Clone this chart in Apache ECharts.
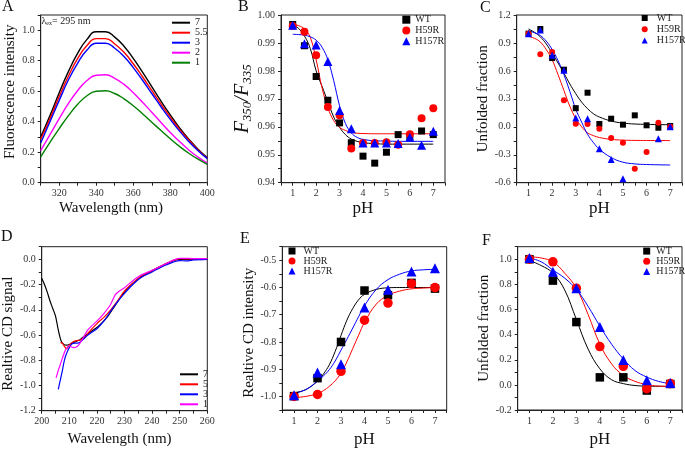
<!DOCTYPE html>
<html><head><meta charset="utf-8">
<script src="https://cdn.jsdelivr.net/npm/echarts@6/dist/echarts.min.js"></script>
<style>html,body{margin:0;padding:0;background:#fff}#c{width:685px;height:449px}</style>
</head><body><div id="c"></div>
<script>
// ---------- Panel A: fluorescence spectra ----------
const wlA = [310,315,320,325,330,335,340,345,350,355,360,365,370,375,380,385,390,395,400];
const fluo7  = [0.30,0.44,0.59,0.73,0.85,0.94,0.99,0.99,0.955,0.895,0.815,0.725,0.63,0.535,0.445,0.36,0.285,0.22,0.165];
const fluo55 = [0.285,0.42,0.565,0.70,0.815,0.90,0.945,0.945,0.91,0.855,0.78,0.695,0.605,0.515,0.43,0.35,0.28,0.215,0.16];
const fluo3  = [0.26,0.40,0.54,0.675,0.785,0.87,0.915,0.915,0.882,0.828,0.755,0.672,0.585,0.498,0.415,0.338,0.27,0.21,0.158];
const fluo2  = [0.21,0.315,0.42,0.52,0.605,0.67,0.705,0.708,0.685,0.645,0.59,0.528,0.462,0.395,0.33,0.27,0.215,0.168,0.128];
const fluo1  = [0.17,0.265,0.355,0.44,0.515,0.57,0.60,0.603,0.585,0.55,0.505,0.452,0.397,0.342,0.288,0.238,0.193,0.154,0.12];

// ---------- Panels B, C: pH scans ----------
const phBC = [1,1.5,2,2.5,3,3.5,4,4.5,5,5.5,6,6.5,7];
const bWT    = [0.9966,0.989,0.978,0.9695,0.9614,0.9543,0.9495,0.947,0.9509,0.9572,0.9565,0.9585,0.9572];
const bH59R  = [0.9961,0.994,0.9856,0.9671,0.9641,0.9522,0.9542,0.9542,0.9545,0.9536,0.9573,0.9631,0.9666];
const bH157R = [0.9963,0.9897,0.9893,0.9834,0.9658,0.9593,0.9542,0.9542,0.9542,0.954,0.9563,0.9534,0.9584];
const fitPhBC = [1,1.25,1.5,1.75,2,2.25,2.5,2.75,3,3.25,3.5,3.75,4,4.5,5,5.5,6,7];
const bFitWT    = [0.9965,0.9952,0.9925,0.988,0.980,0.9745,0.969,0.9635,0.9598,0.9572,0.9556,0.9548,0.9543,0.954,0.9538,0.9538,0.9538,0.9538];
const bFitH59R  = [0.9966,0.9962,0.995,0.992,0.984,0.974,0.9668,0.9622,0.9598,0.9587,0.958,0.9577,0.9576,0.9575,0.9575,0.9575,0.9575,0.9575];
const bFitH157R = [0.9931,0.993,0.9928,0.9922,0.991,0.9885,0.984,0.9765,0.9675,0.9612,0.9578,0.9562,0.9555,0.955,0.9549,0.9548,0.9548,0.9548];

const cWT    = [1.0,1.05,0.738,0.613,0.2,0.366,0.03,0.087,0.023,0.123,0.016,-0.01,0.009];
const cH59R  = [1.0,0.778,0.803,0.284,0.034,0.03,-0.02,-0.12,-0.17,-0.45,-0.27,0.044,0.0];
const cH157R = [1.0,1.04,0.767,0.606,0.094,0.087,-0.235,-0.35,-0.557,null,null,-0.127,0.0];
const cFitWT    = [1.05,1.015,0.965,0.89,0.79,0.685,0.575,0.46,0.356,0.265,0.195,0.14,0.105,0.062,0.04,0.03,0.026,0.022];
const cFitH59R  = [0.97,0.95,0.91,0.83,0.72,0.56,0.39,0.22,0.09,0.0,-0.065,-0.095,-0.115,-0.135,-0.143,-0.146,-0.147,-0.148];
const cFitH157R = [1.03,1.01,0.98,0.92,0.83,0.71,0.56,0.38,0.19,0.05,-0.08,-0.17,-0.24,-0.33,-0.38,-0.398,-0.405,-0.41];

// ---------- Panel D: CD spectra ----------
const wlD7 = [200,201,202,203,204,205,206,207,208,209,210,212,214,216,218,220,222,224,226,228,230,233,236,240,245,250,255,260];
const cd7  = [-0.15,-0.2,-0.26,-0.33,-0.39,-0.45,-0.56,-0.645,-0.675,-0.68,-0.675,-0.655,-0.635,-0.6,-0.57,-0.54,-0.5,-0.45,-0.385,-0.32,-0.26,-0.19,-0.14,-0.09,-0.035,0.0,0.0,0.0];
const wlD5 = [206.8,207.5,208.2,209,210,211,212.5,214,215.5,217,220,222.5,225,227.5,230,233,236,240,245,250,255,260];
const cd5  = [-0.66,-0.665,-0.69,-0.71,-0.68,-0.66,-0.645,-0.64,-0.62,-0.58,-0.51,-0.46,-0.40,-0.33,-0.25,-0.19,-0.135,-0.09,-0.035,0.005,0.003,0.0];
const wlD3 = [206,206.5,207,207.5,208,208.6,209.3,210,211,212,213,214,215,216.5,218,220,222.5,225,227.5,230,233,236,240,245,250,252.5,255,260];
const cd3  = [-1.03,-0.98,-0.93,-0.88,-0.82,-0.77,-0.73,-0.70,-0.67,-0.665,-0.665,-0.655,-0.635,-0.605,-0.58,-0.55,-0.49,-0.41,-0.335,-0.27,-0.2,-0.145,-0.1,-0.045,-0.01,-0.013,-0.005,0.0];
const wlD1 = [205.2,206,206.8,207.7,208.6,209.9,210.8,211.7,212.5,213.2,214.7,216.5,218,220,222.5,224.9,226.7,228.6,230,233,236,240,245,250,255,260];
const cd1  = [-0.94,-0.88,-0.83,-0.77,-0.72,-0.685,-0.695,-0.70,-0.695,-0.685,-0.635,-0.565,-0.53,-0.49,-0.43,-0.36,-0.28,-0.245,-0.225,-0.17,-0.125,-0.087,-0.035,0.008,0.006,0.005];

// ---------- Panel E: relative CD intensity ----------
const phEF = [1,2,3,4,5,6,7];
const eWT    = [-0.999,-0.933,-0.80,-0.611,-0.628,-0.583,-0.604];
const eH59R  = [-1.0,-0.993,-0.908,-0.72,-0.657,-0.586,-0.60];
const eH157R = [-0.996,-0.912,-0.882,-0.673,-0.608,-0.541,-0.529];
const fitPhE = [1,1.5,2,2.25,2.5,2.75,3,3.25,3.5,3.75,4,4.5,5,5.5,6,6.5,7];
const eFitWT    = [-0.987,-0.975,-0.944,-0.918,-0.884,-0.835,-0.776,-0.72,-0.677,-0.645,-0.625,-0.607,-0.601,-0.6,-0.6,-0.6,-0.6];
const eFitH59R  = [-1.005,-1.0,-0.99,-0.979,-0.963,-0.943,-0.914,-0.873,-0.824,-0.775,-0.728,-0.661,-0.629,-0.613,-0.605,-0.602,-0.60];
const eFitH157R = [-0.989,-0.975,-0.944,-0.925,-0.902,-0.87,-0.83,-0.79,-0.749,-0.707,-0.667,-0.607,-0.571,-0.551,-0.539,-0.535,-0.533];

// ---------- Panel F: unfolded fraction (CD) ----------
const fWT    = [1.0,0.83,0.50,0.06,0.06,-0.045,0.007];
const fH59R  = [1.0,0.98,0.77,0.305,0.148,-0.03,0.01];
const fH157R = [1.01,0.90,0.77,0.46,0.198,0.036,0.015];
const fitPhF = [1,1.5,2,2.5,3,3.5,4,4.5,5,5.5,6,6.5,7];
const fFitWT    = [0.99,0.95,0.89,0.756,0.52,0.285,0.128,0.041,0.01,-0.005,-0.01,-0.011,-0.012];
const fFitH59R  = [1.02,1.01,0.98,0.89,0.77,0.56,0.325,0.167,0.075,0.028,0.002,-0.01,-0.012];
const fFitH157R = [1.01,0.98,0.914,0.85,0.76,0.625,0.468,0.324,0.206,0.114,0.062,0.028,0.01];

// ---------- tick labels ----------
const tickA_x = [320,340,360,380,400];
const tickD_x = [200,210,220,230,240,250,260];

// ================= build =================
const FF = 'Liberation Serif';
const BLACK='#000', RED='#ff0000', BLUE='#0000ff', MAG='#ff00ff', GREEN='#008000';
const pairs = (xs, ys) => xs.map((x,i)=>[x, ys[i]]).filter(p => p[1] !== null);
const fix1 = v => (Math.abs(v) < 1e-9 ? 0 : v).toFixed(1);
const fmtPH = v => Math.abs(v - Math.round(v)) < 1e-6 ? String(Math.round(v)) : '';

const grids = [
  {left:40.7, top:15, width:166.6, height:167.7},
  {left:281, top:15, width:164, height:167.7},
  {left:516.7, top:15, width:166, height:167.7},
  {left:41, top:246.7, width:166.3, height:164},
  {left:282.3, top:246.7, width:164.4, height:165.6},
  {left:517.7, top:246.7, width:166, height:165.6}
].map(g => Object.assign(g, {show:true, borderColor:'#222', borderWidth:1, backgroundColor:'transparent', containLabel:false}));

function axis(gi, o) {
  return {
    gridIndex: gi, type:'value', min:o.min, max:o.max, interval:o.interval,
    axisLine:{show:true, onZero:false, lineStyle:{color:'#222', width:1}},
    axisTick:{show:true, length:3, lineStyle:{color:'#222'}},
    splitLine:{show:false},
    axisLabel:{fontFamily:FF, fontSize:10, color:'#333', margin:o.margin || 6, formatter:o.fmt},
    name:o.name, nameLocation:'middle', nameGap:o.nameGap,
    nameTextStyle: Object.assign({fontFamily:FF, fontSize:15, color:'#111'}, o.nts || {})
  };
}

const xAxis = [
  axis(0,{min:310,max:400,interval:10,fmt:v=>tickA_x.includes(Math.round(v))&&Math.abs(v-Math.round(v))<1e-6?String(Math.round(v)):'',name:'Wavelength (nm)',nameGap:18,nts:{padding:[0,26,0,0]}}),
  axis(1,{min:0.5,max:7.5,interval:0.5,fmt:fmtPH,name:'pH',nameGap:17,nts:{fontSize:17}}),
  axis(2,{min:0.5,max:7.5,interval:0.5,fmt:fmtPH,name:'pH',nameGap:17,nts:{fontSize:17}}),
  axis(3,{min:200,max:260,interval:5,fmt:v=>tickD_x.includes(Math.round(v))&&Math.abs(v-Math.round(v))<1e-6?String(Math.round(v)):'',name:'Wavelength (nm)',nameGap:21,nts:{padding:[0,10,0,0]}}),
  axis(4,{min:0.5,max:7.5,interval:0.5,fmt:fmtPH,name:'pH',nameGap:21,nts:{fontSize:17}}),
  axis(5,{min:0.5,max:7.5,interval:0.5,fmt:fmtPH,name:'pH',nameGap:21,nts:{fontSize:17}})
];
const yAxis = [
  axis(0,{min:0,max:1.1,interval:0.1,fmt:v=>Math.round(v*10)%2===0?fix1(v):'',name:'Fluorescence intensity',nameGap:23,nts:{padding:[0,0,0,14]}}),
  axis(1,{min:0.94,max:1.0,interval:0.005,fmt:v=>Math.round(v*1000)%10===0?v.toFixed(2):'',
    name:'{i|F}{s|350}{i|/F}{s|335}',nameGap:18,
    nts:{rich:{i:{fontFamily:FF,fontStyle:'italic',fontSize:20,color:'#111'},s:{fontFamily:FF,fontStyle:'italic',fontSize:13,color:'#111',verticalAlign:'bottom',padding:[8,0,0,0]}}}}),
  axis(2,{min:-0.6,max:1.2,interval:0.15,fmt:v=>Math.abs(Math.round(v/0.15))%2===0?fix1(v):'',name:'Unfolded fraction',nameGap:21}),
  axis(3,{min:-1.2,max:0.1,interval:0.1,fmt:v=>Math.round(v*10)%2===0?fix1(v):'',name:'Realtive CD signal',nameGap:25,nts:{padding:[0,10,0,0]}}),
  axis(4,{min:-1.05,max:-0.45,interval:0.05,fmt:v=>Math.round(v*100)%10===0?fix1(v):'',name:'Realtive CD intensity',nameGap:26,nts:{padding:[0,9,0,0]}}),
  axis(5,{min:-0.2,max:1.1,interval:0.1,fmt:v=>Math.round(v*10)%2===0?fix1(v):'',name:'Unfolded fraction',nameGap:21})
];

const series = [];
function addLine(gi, name, xs, ys, color, width, smooth) {
  series.push({type:'line', name, xAxisIndex:gi, yAxisIndex:gi, data:pairs(xs, ys), showSymbol:false, symbol:'none',
    smooth: smooth, lineStyle:{color, width}, itemStyle:{color}, z:2});
}
function addScatter(gi, name, xs, ys, color, symbol, size) {
  series.push({type:'scatter', name, xAxisIndex:gi, yAxisIndex:gi, data:pairs(xs, ys), symbol, symbolSize:size,
    itemStyle:{color, opacity:1}, z:3});
}
// A
addLine(0,'A7',wlA,fluo7,BLACK,1.4,0.5);
addLine(0,'A5.5',wlA,fluo55,RED,1.4,0.5);
addLine(0,'A3',wlA,fluo3,BLUE,1.4,0.5);
addLine(0,'A2',wlA,fluo2,MAG,1.4,0.5);
addLine(0,'A1',wlA,fluo1,GREEN,1.4,0.5);
// B
addLine(1,'bfitWT',fitPhBC,bFitWT,BLACK,1,0.4);
addLine(1,'bfitH59R',fitPhBC,bFitH59R,RED,1,0.4);
addLine(1,'bfitH157R',fitPhBC,bFitH157R,BLUE,1,0.4);
addScatter(1,'BWT',phBC,bWT,BLACK,'rect',7);
addScatter(1,'BH59R',phBC,bH59R,RED,'circle',8);
addScatter(1,'BH157R',phBC,bH157R,BLUE,'triangle',9);
// C
addLine(2,'cfitWT',fitPhBC,cFitWT,BLACK,1,0.4);
addLine(2,'cfitH59R',fitPhBC,cFitH59R,RED,1,0.4);
addLine(2,'cfitH157R',fitPhBC,cFitH157R,BLUE,1,0.4);
addScatter(2,'CWT',phBC,cWT,BLACK,'rect',6);
addScatter(2,'CH59R',phBC,cH59R,RED,'circle',6);
addScatter(2,'CH157R',phBC,cH157R,BLUE,'triangle',7);
// D
addLine(3,'D7',wlD7,cd7,BLACK,1.2,0.3);
addLine(3,'D5',wlD5,cd5,RED,1.2,0.3);
addLine(3,'D3',wlD3,cd3,BLUE,1.2,0.3);
addLine(3,'D1',wlD1,cd1,MAG,1.2,0.3);
// E
addLine(4,'efitWT',fitPhE,eFitWT,BLACK,1,0.4);
addLine(4,'efitH59R',fitPhE,eFitH59R,RED,1,0.4);
addLine(4,'efitH157R',fitPhE,eFitH157R,BLUE,1,0.4);
addScatter(4,'EWT',phEF,eWT,BLACK,'rect',8.5);
addScatter(4,'EH59R',phEF,eH59R,RED,'circle',9.5);
addScatter(4,'EH157R',phEF,eH157R,BLUE,'triangle',10);
// F
addLine(5,'ffitWT',fitPhF,fFitWT,BLACK,1,0.4);
addLine(5,'ffitH59R',fitPhF,fFitH59R,RED,1,0.4);
addLine(5,'ffitH157R',fitPhF,fFitH157R,BLUE,1,0.4);
addScatter(5,'FWT',phEF,fWT,BLACK,'rect',8.5);
addScatter(5,'FH59R',phEF,fH59R,RED,'circle',9.5);
addScatter(5,'FH157R',phEF,fH157R,BLUE,'triangle',10);

function legend(names, icons, o) {
  return {
    orient:'vertical', left:o.left, top:o.top, itemWidth:o.w, itemHeight:o.h, itemGap:0,
    selectedMode:false, padding:0,
    formatter: n => n.slice(1),
    textStyle:{fontFamily:FF, fontSize:o.fs || 10, color:'#222', lineHeight:o.lh, padding:o.tp || 0},
    data: names.map((n,i)=>({name:n, icon:icons[i]}))
  };
}
const legends = [
  legend(['A7','A5.5','A3','A2','A1'],['rect','rect','rect','rect','rect'],{left:172,top:17.7,w:18,h:2,lh:10}),
  legend(['BWT','BH59R','BH157R'],['rect','circle','triangle'],{left:402.3,top:14.3,w:8,h:8,lh:10.8}),
  legend(['CWT','CH59R','CH157R'],['rect','circle','triangle'],{left:641.7,top:12.4,w:6,h:6,lh:11.2,tp:[0,0,0,4]}),
  legend(['D7','D5','D3','D1'],['rect','rect','rect','rect'],{left:180,top:369.3,w:18,h:2,lh:10}),
  legend(['EWT','EH59R','EH157R'],['rect','circle','triangle'],{left:288.5,top:246,w:7,h:7,lh:10,tp:[0,0,0,3]}),
  legend(['FWT','FH59R','FH157R'],['rect','circle','triangle'],{left:643.2,top:246,w:7,h:7,lh:10.2,tp:[0,0,0,1]})
];

const letter = (t, l, tp) => ({type:'text', left:l, top:tp, style:{text:t, font:'16px "Liberation Serif"', fill:'#111'}});
const graphic = [
  letter('A',2,-1), letter('B',238,-1), letter('C',480,0),
  letter('D',1,229), letter('E',240,231), letter('F',482,233),
  {type:'text', left:41.5, top:16, style:{
    text:'{a|λ}{b|ex}{a|= 295 nm}',
    rich:{a:{fontFamily:FF,fontSize:10,fill:'#222'}, b:{fontFamily:FF,fontSize:6,fill:'#222',verticalAlign:'bottom',padding:[5,0,0,0]}}
  }}
];

const chart = echarts.init(document.getElementById('c'), null, {renderer:'canvas'});
chart.setOption({
  animation:false,
  backgroundColor:'#fff',
  grid: grids, xAxis, yAxis, series, legend: legends, graphic
});
</script></body></html>
